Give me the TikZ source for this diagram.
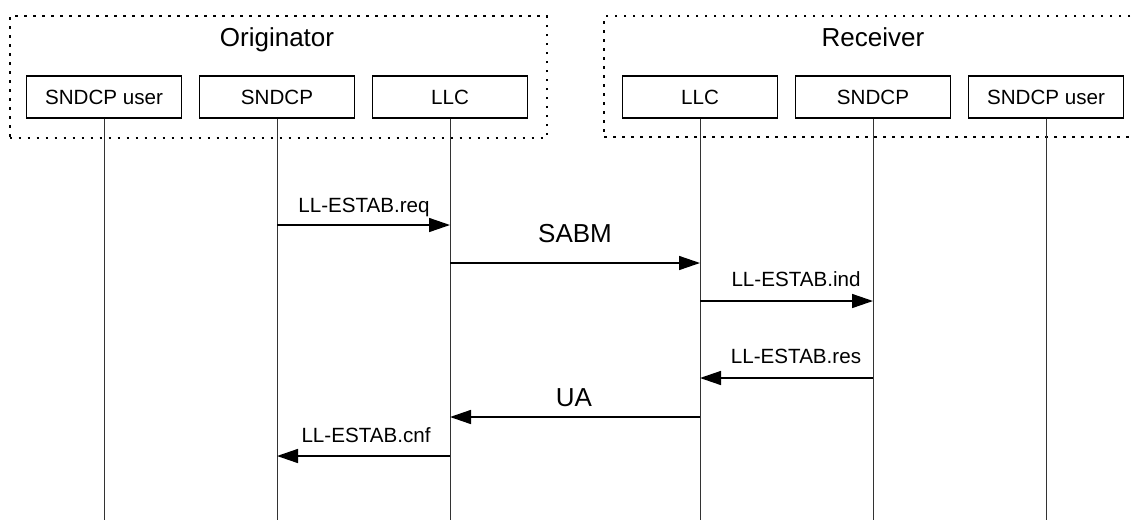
\documentclass[tikz,border=0pt]{standalone}
\usepackage{fontspec}
\setmainfont{Liberation Sans}
\usetikzlibrary{arrows.meta,positioning}
\begin{document}
\begin{tikzpicture}[x=1pt,y=-1pt,
  frame/.style={draw,line width=2pt,dash pattern=on 2.5pt off 6.5pt,inner sep=0pt},
  ent/.style={draw,line width=1.3pt,minimum width=155pt,minimum height=42pt,inner sep=0pt,font=\fontsize{20.6}{24}\selectfont},
  life/.style={draw=black!80,line width=1pt},
  msg/.style={line width=1.5pt,-{Triangle[length=21pt,width=14pt]}},
  lab/.style={font=\fontsize{20.6}{24}\selectfont,inner sep=0pt,anchor=base},
  biglab/.style={font=\fontsize{26}{30}\selectfont,inner sep=0pt,anchor=base}]
\useasboundingbox (0,0) rectangle (1135,520);
% frames
\node[frame,minimum width=537pt,minimum height=122pt,anchor=north west] (of) at (8.5,15) {};
\node[frame,minimum width=540pt,minimum height=121pt,anchor=north west] (rf) at (603,15) {};
\node[biglab] (ot) at (277,46) {Originator};
\node[biglab] (rt) at (873,46) {Receiver};
% entities
\node[ent] (ou) at (104,97) {SNDCP user};
\node[ent] (os) at (277,97) {SNDCP};
\node[ent] (ol) at (450,97) {LLC};
\node[ent] (rl) at (700,97) {LLC};
\node[ent] (rs) at (873,97) {SNDCP};
\node[ent] (ru) at (1046,97) {SNDCP user};
% lifelines
\foreach \n in {ou,os,ol,rl,rs,ru}{
  \coordinate (\n e) at (\n.south |- 0,520);
  \draw[life] (\n.south) -- (\n e);
}
% message points
\coordinate (m1a) at (os |- 0,225); \coordinate (m1b) at (ol |- 0,225);
\coordinate (m2a) at (ol |- 0,263); \coordinate (m2b) at (rl |- 0,263);
\coordinate (m3a) at (rl |- 0,301); \coordinate (m3b) at (rs |- 0,301);
\coordinate (m4a) at (rs |- 0,378); \coordinate (m4b) at (rl |- 0,378);
\coordinate (m5a) at (rl |- 0,417); \coordinate (m5b) at (ol |- 0,417);
\coordinate (m6a) at (ol |- 0,456); \coordinate (m6b) at (os |- 0,456);
\draw[msg] (m1a) -- (m1b);
\draw[msg] (m2a) -- (m2b);
\draw[msg] (m3a) -- (m3b);
\draw[msg] (m4a) -- (m4b);
\draw[msg] (m5a) -- (m5b);
\draw[msg] (m6a) -- (m6b);
\node[lab] (l1) at (364,212) {LL-ESTAB.req};
\node[biglab] (l2) at (575,242) {SABM};
\node[lab] (l3) at (796,286) {LL-ESTAB.ind};
\node[lab] (l4) at (796,363) {LL-ESTAB.res};
\node[biglab] (l5) at (574,406) {UA};
\node[lab] (l6) at (366,442) {LL-ESTAB.cnf};
\end{tikzpicture}
\end{document}
